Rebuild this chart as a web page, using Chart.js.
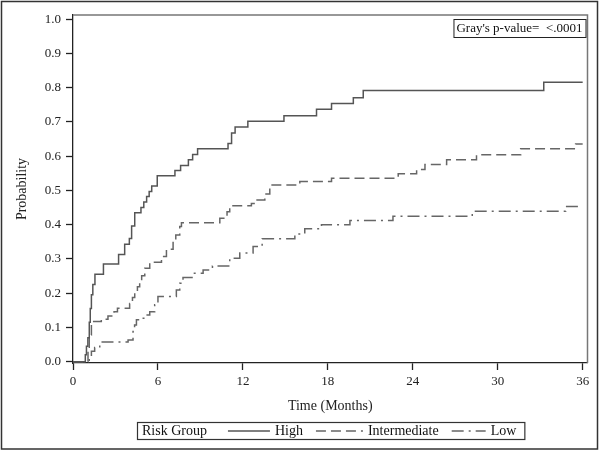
<!DOCTYPE html>
<html lang="en">
<head>
    <meta charset="UTF-8">
    <title>Cumulative Incidence by Risk Group</title>
    <script src="https://cdn.jsdelivr.net/npm/chart.js"></script>
    <style>
        body { margin: 0; background: #fff; }
        #wrap { width: 600px; height: 451px; }
    </style>
</head>
<body>

<div id="wrap">
    <canvas id="cifChart" width="600" height="451"></canvas>
</div>

<script>
// step times (months) and cumulative probability after each step
const highTimes = [0, 0.87, 0.95, 1.05, 1.15, 1.22, 1.3, 1.4, 1.55, 2.15, 3.22, 3.65, 3.98, 4.14, 4.36, 4.8, 5.0, 5.2, 5.38, 5.56, 5.95, 7.2, 7.6, 8.15, 8.45, 8.8, 10.95, 11.2, 11.45, 12.35, 14.9, 17.2, 18.26, 19.8, 20.5, 33.25, 36];
const highProb  = [0, 0.02, 0.045, 0.07, 0.115, 0.155, 0.195, 0.225, 0.255, 0.285, 0.313, 0.343, 0.36, 0.396, 0.435, 0.45, 0.466, 0.482, 0.497, 0.513, 0.543, 0.558, 0.573, 0.59, 0.605, 0.622, 0.637, 0.668, 0.685, 0.702, 0.718, 0.737, 0.754, 0.771, 0.792, 0.816, 0.816];

const interTimes = [0, 1.06, 1.15, 1.3, 2.0, 2.47, 2.9, 3.14, 4.0, 4.2, 4.36, 4.55, 4.71, 4.85, 5.07, 5.42, 6.25, 6.6, 7.07, 7.26, 7.54, 7.66, 10.37, 10.88, 11.07, 12.6, 13.0, 13.55, 13.9, 16.02, 18.26, 22.97, 24.27, 24.86, 26.39, 28.5, 31.62, 35.5, 36];
const interProb  = [0, 0.04, 0.078, 0.117, 0.124, 0.133, 0.146, 0.156, 0.17, 0.187, 0.204, 0.219, 0.236, 0.251, 0.273, 0.29, 0.307, 0.328, 0.348, 0.37, 0.395, 0.406, 0.419, 0.438, 0.455, 0.462, 0.472, 0.49, 0.516, 0.526, 0.536, 0.549, 0.561, 0.576, 0.59, 0.604, 0.622, 0.636, 0.636];

const lowTimes = [0, 1.15, 1.3, 1.53, 1.89, 3.89, 4.24, 4.35, 4.48, 4.83, 5.07, 5.42, 5.77, 6.0, 7.3, 7.54, 7.77, 8.48, 9.19, 9.85, 11.07, 11.78, 12.72, 13.36, 15.67, 16.37, 17.55, 19.56, 22.6, 28.2, 34.8, 36];
const lowProb  = [0, 0.015, 0.03, 0.041, 0.057, 0.063, 0.088, 0.107, 0.122, 0.127, 0.136, 0.146, 0.166, 0.19, 0.209, 0.229, 0.246, 0.258, 0.268, 0.279, 0.302, 0.317, 0.336, 0.359, 0.373, 0.388, 0.40, 0.412, 0.425, 0.439, 0.453, 0.453];

const groupNames = ["High", "Intermediate", "Low"];
const xTickValues = [0, 6, 12, 18, 24, 30, 36];
const yTickValues = [0, 0.1, 0.2, 0.3, 0.4, 0.5, 0.6, 0.7, 0.8, 0.9, 1.0];
const legendTitle = "Risk Group";
const pValueText = "Gray's p-value=  <.0001";

const serif = '"Liberation Serif", "DejaVu Serif", serif';
Chart.defaults.font.family = serif;
Chart.defaults.color = "#222";

function toPoints(times, probs) {
    return times.map((t, i) => ({ x: t, y: probs[i] }));
}

// draws the plot frame, p-value box, bottom legend and outer border
const decorations = {
    id: "decorations",
    afterDraw(chart) {
        const ctx = chart.ctx;
        const a = chart.chartArea;
        ctx.save();

        // top and right frame
        ctx.strokeStyle = "#777";
        ctx.lineWidth = 1.5;
        ctx.beginPath();
        ctx.moveTo(a.left, a.top);
        ctx.lineTo(a.right, a.top);
        ctx.lineTo(a.right, a.bottom);
        ctx.stroke();

        // p-value inset
        ctx.font = "13px " + serif;
        ctx.fillStyle = "#111";
        ctx.textBaseline = "middle";
        const pw = ctx.measureText(pValueText).width;
        const bx = a.right - 2 - pw - 6;
        ctx.strokeStyle = "#222";
        ctx.lineWidth = 1;
        ctx.strokeRect(bx + 0.5, 19.5, pw + 6, 18);
        ctx.fillText(pValueText, bx + 3, 29);

        // legend
        ctx.font = "14px " + serif;
        const ly = 431;
        const lineLens = [42, 47, 34];
        const startX = 137;
        let x = 142;
        ctx.fillText(legendTitle, x, ly);
        x += ctx.measureText(legendTitle).width + 21;
        chart.data.datasets.forEach((ds, i) => {
            ctx.save();
            ctx.strokeStyle = ds.borderColor;
            ctx.lineWidth = ds.borderWidth;
            ctx.setLineDash(ds.borderDash || []);
            ctx.beginPath();
            ctx.moveTo(x, ly);
            ctx.lineTo(x + lineLens[i], ly);
            ctx.stroke();
            ctx.restore();
            x += lineLens[i] + 5;
            ctx.fillText(ds.label, x, ly);
            x += ctx.measureText(ds.label).width + 13;
        });
        ctx.strokeStyle = "#333";
        ctx.lineWidth = 1.2;
        ctx.strokeRect(startX + 0.5, 422.5, x - 5 - startX, 17);

        // outer border
        ctx.strokeStyle = "#333";
        ctx.lineWidth = 1.5;
        ctx.strokeRect(1.5, 1.5, 596, 447.5);
        ctx.restore();
    }
};

new Chart(document.getElementById("cifChart"), {
    type: "line",
    data: {
        datasets: [
            {
                label: groupNames[0],
                data: toPoints(highTimes, highProb),
                borderColor: "#555",
                borderWidth: 1.5,
                stepped: "before",
                pointRadius: 0
            },
            {
                label: groupNames[1],
                data: toPoints(interTimes, interProb),
                borderColor: "#666",
                borderWidth: 1.5,
                borderDash: [10, 5],
                stepped: "before",
                pointRadius: 0
            },
            {
                label: groupNames[2],
                data: toPoints(lowTimes, lowProb),
                borderColor: "#666",
                borderWidth: 1.5,
                borderDash: [12, 5, 2, 5],
                stepped: "before",
                pointRadius: 0
            }
        ]
    },
    options: {
        responsive: false,
        animation: false,
        layout: { padding: { left: 0, top: 15, right: 12.5, bottom: 36 } },
        plugins: {
            legend: { display: false },
            tooltip: { enabled: false }
        },
        scales: {
            x: {
                type: "linear",
                min: 0,
                max: 36.34,
                afterBuildTicks: s => { s.ticks = xTickValues.map(v => ({ value: v })); },
                afterFit: s => { s.height = 52; },
                grid: { drawOnChartArea: false, tickLength: 7, color: "#222", tickWidth: 1.3 },
                border: { color: "#222", width: 1.3 },
                ticks: { font: { size: 13 }, padding: 4, maxRotation: 0 },
                title: { display: true, text: "Time (Months)", font: { size: 14 }, padding: { top: 4, bottom: 0 } }
            },
            y: {
                min: -0.004,
                max: 1.0125,
                afterBuildTicks: s => { s.ticks = yTickValues.map(v => ({ value: v })); },
                afterFit: s => { s.width = 73; },
                grid: { drawOnChartArea: false, tickLength: 7, color: "#222", tickWidth: 1.3 },
                border: { color: "#222", width: 1.3 },
                ticks: { font: { size: 13 }, padding: 5, callback: v => v.toFixed(1) },
                title: { display: true, text: "Probability", font: { size: 14 }, padding: { top: 13.6, bottom: 0 } }
            }
        }
    },
    plugins: [decorations]
});
</script>

</body>
</html>
